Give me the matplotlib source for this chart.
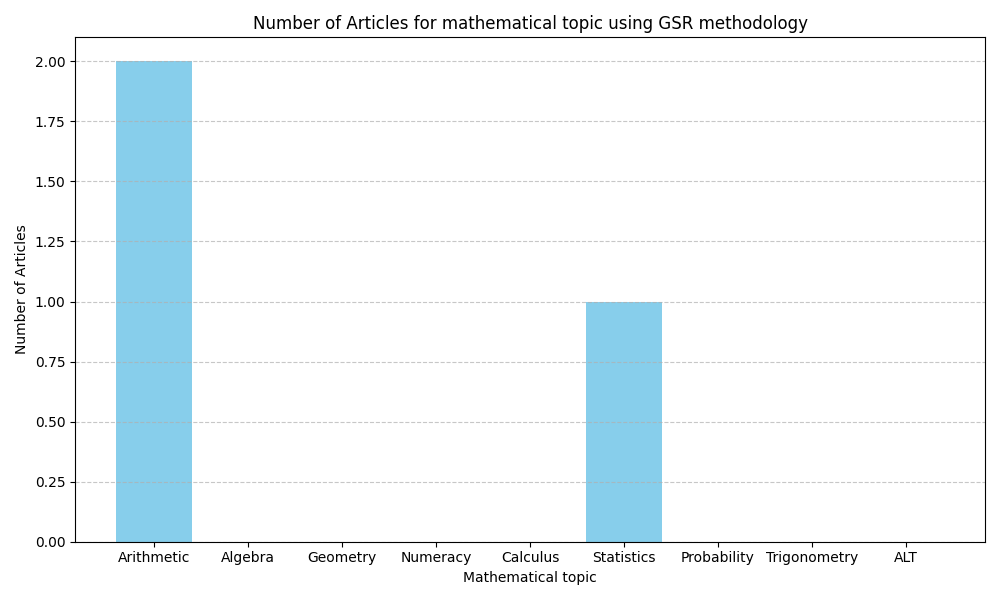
import matplotlib
matplotlib.use("Agg")
import matplotlib.pyplot as plt

topics = ["Arithmetic", "Algebra", "Geometry", "Numeracy", "Calculus",
          "Statistics", "Probability", "Trigonometry", "ALT"]
articles = [2, 0, 0, 0, 0, 1, 0, 0, 0]

fig, ax = plt.subplots(figsize=(10, 6), dpi=100)
ax.bar(topics, articles, color="skyblue")
ax.set_title("Number of Articles for mathematical topic using GSR methodology")
ax.set_xlabel("Mathematical topic")
ax.set_ylabel("Number of Articles")
ax.grid(axis="y", linestyle="--", alpha=0.7)
fig.tight_layout()
fig.savefig("out.png")
